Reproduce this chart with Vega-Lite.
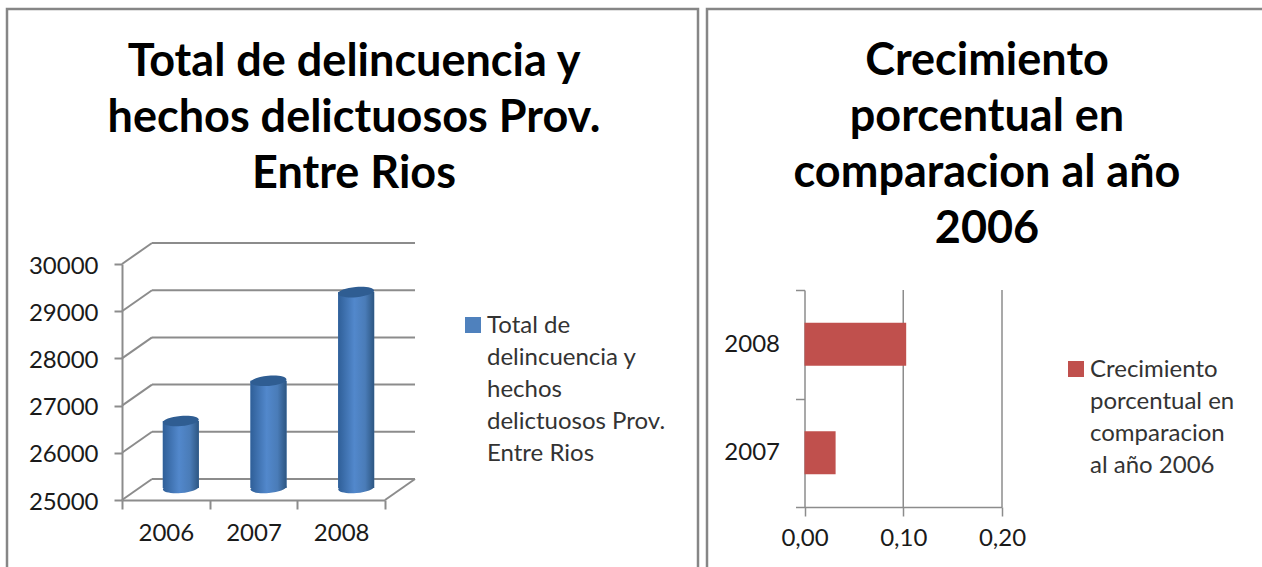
{
"$schema":"https://vega.github.io/schema/vega-lite/v6.json",
"padding":{"left":5,"top":-5,"right":0,"bottom":0},
"background":"white",
"spacing":9,
"bounds":"flush",
"resolve":{"scale":{"color":"independent"}},
"config":{"font":"Lato","view":{"stroke":"#868686","strokeWidth":2.5},"axis":{"labelFont":"Lato","labelFontSize":24,"labelColor":"#1a1a1a","domainColor":"#8c8c8c","tickColor":"#8c8c8c","title":null,"grid":false,"labelFlush":false},"title":{"font":"Lato","fontWeight":"bold","fontSize":45,"color":"#000000","lineHeight":56,"anchor":"middle","frame":"group"},"legend":{"labelFont":"Lato","labelFontSize":24,"labelColor":"#333333","title":null}},
"datasets":{
"totales":[{"year":"2006","total":26420,"base":25000,"serie":"Total de delincuencia y hechos delictuosos Prov. Entre Rios"},{"year":"2007","total":27270,"base":25000,"serie":"Total de delincuencia y hechos delictuosos Prov. Entre Rios"},{"year":"2008","total":29150,"base":25000,"serie":"Total de delincuencia y hechos delictuosos Prov. Entre Rios"}],
"muros":[{"tick":25000,"back":25445},{"tick":26000,"back":26445},{"tick":27000,"back":27445},{"tick":28000,"back":28445},{"tick":29000,"back":29445},{"tick":30000,"back":30445}],
"crecimiento":[{"year":"2007","pct":0.0315,"serie":"Crecimiento porcentual en comparacion al año 2006"},{"year":"2008","pct":0.103,"serie":"Crecimiento porcentual en comparacion al año 2006"}],
"rejilla":[{"v":0.1},{"v":0.2}]
},
"hconcat":[
{"width":691,"height":580,
"title":{"text":["Total de delincuencia y","hechos delictuosos Prov.","Entre Rios"],"offset":-188,"dx":1.5},
"resolve":{"scale":{"x":"independent"}},
"layer":[
{"data":{"name":"muros"},"mark":{"type":"rule","color":"#8c8c8c","strokeWidth":2},"encoding":{"x":{"datum":0,"type":"quantitative","axis":null,"scale":{"domain":[0,1],"range":[145,408]}},"x2":{"datum":1},"y":{"field":"back","type":"quantitative","axis":{"orient":"left","offset":-115,"format":"d","values":[25000,26000,27000,28000,29000,30000],"tickSize":8,"tickWidth":2,"domainWidth":2,"labelPadding":16,"labelOffset":2},"scale":{"domain":[25000,30000],"range":[491,255],"nice":false,"zero":false}}}},
{"data":{"name":"muros"},"mark":{"type":"rule","color":"#8c8c8c","strokeWidth":2},"encoding":{"x":{"datum":0,"type":"quantitative","axis":null,"scale":{"domain":[0,1],"range":[115,145]}},"x2":{"datum":1},"y":{"field":"tick","type":"quantitative"},"y2":{"field":"back"}}},
{"data":{"name":"muros"},"transform":[{"filter":"datum.tick==25000"}],"mark":{"type":"rule","color":"#8c8c8c","strokeWidth":2},"encoding":{"x":{"datum":0,"type":"quantitative","axis":null,"scale":{"domain":[0,1],"range":[378,408]}},"x2":{"datum":1},"y":{"field":"tick","type":"quantitative"},"y2":{"field":"back"}}},
{"data":{"name":"totales"},"mark":{"type":"bar","width":36,"xOffset":15,"yOffset":-12,"y2Offset":-12},
"encoding":{"x":{"field":"year","type":"nominal","axis":{"orient":"bottom","offset":-89,"tickBand":"extent","tickSize":9,"tickWidth":2,"domainWidth":2,"labelAngle":0,"labelPadding":12},"scale":{"type":"band","domain":["2006","2007","2008"],"range":[115,378],"paddingInner":0,"paddingOuter":0}},
"y":{"field":"total","type":"quantitative"},"y2":{"field":"base"},
"color":{"field":"serie","type":"nominal","scale":{"range":["#4F81BD"]},"legend":{"orient":"none","legendX":454,"legendY":304,"symbolType":"square","symbolSize":256,"symbolStrokeWidth":0,"labelOffset":2,"labelExpr":"['Total de','delincuencia y','hechos','delictuosos Prov.','Entre Rios']","labelLimit":300,"encode":{"labels":{"update":{"lineHeight":{"value":32},"baseline":{"value":"top"},"dy":{"value":-11}}}}}}}},
{"data":{"name":"totales"},"mark":{"type":"point","filled":true,"opacity":1,"color":{"gradient":"linear","x1":0,"y1":0,"x2":1,"y2":0,"stops":[{"offset":0,"color":"#2f5f98"},{"offset":0.45,"color":"#5288cc"},{"offset":0.75,"color":"#4a7cb8"},{"offset":1,"color":"#2d5682"}]},"shape":"M-1,0A1,0.28,0,1,0,1,0A1,0.28,0,1,0,-1,0Z","size":1296,"xOffset":15,"yOffset":-12,"angle":-5},
"encoding":{"x":{"field":"year","type":"nominal","axis":null,"scale":{"type":"band","domain":["2006","2007","2008"],"range":[115,378],"paddingInner":0,"paddingOuter":0}},"y":{"field":"base","type":"quantitative"}}},
{"data":{"name":"totales"},"mark":{"type":"bar","width":36,"xOffset":15,"yOffset":-12,"y2Offset":-12,"color":{"gradient":"linear","x1":0,"y1":0,"x2":1,"y2":0,"stops":[{"offset":0,"color":"#2f5f98"},{"offset":0.45,"color":"#5288cc"},{"offset":0.75,"color":"#4a7cb8"},{"offset":1,"color":"#2d5682"}]}},
"encoding":{"x":{"field":"year","type":"nominal","axis":null,"scale":{"type":"band","domain":["2006","2007","2008"],"range":[115,378],"paddingInner":0,"paddingOuter":0}},"y":{"field":"total","type":"quantitative"},"y2":{"field":"base"}}},
{"data":{"name":"totales"},"mark":{"type":"point","filled":true,"opacity":1,"color":"#2f5d92","shape":"M-1,0A1,0.28,0,1,0,1,0A1,0.28,0,1,0,-1,0Z","size":1296,"xOffset":15,"yOffset":-12,"angle":-5},
"encoding":{"x":{"field":"year","type":"nominal","axis":null,"scale":{"type":"band","domain":["2006","2007","2008"],"range":[115,378],"paddingInner":0,"paddingOuter":0}},"y":{"field":"total","type":"quantitative"}}}
]},
{"width":560,"height":580,
"title":{"text":["Crecimiento","porcentual en","comparacion al año","2006"],"offset":-255},
"resolve":{"scale":{"y":"independent"}},
"layer":[
{"data":{"name":"rejilla"},"mark":{"type":"rule","color":"#8c8c8c","strokeWidth":1.5},"encoding":{"x":{"field":"v","type":"quantitative","axis":{"orient":"bottom","offset":-82,"values":[0,0.1,0.2],"labelExpr":"replace(format(datum.value,'.2f'),'.',',')","tickSize":9,"tickWidth":1.5,"domainWidth":1.5,"labelPadding":10},"scale":{"domain":[0,0.2],"range":[97.5,295],"nice":false}},"y":{"datum":0,"type":"quantitative","axis":null,"scale":{"domain":[0,1],"range":[498,281]}},"y2":{"datum":1}}},
{"data":{"name":"crecimiento"},"mark":{"type":"bar","height":43},
"encoding":{"x":{"field":"pct","type":"quantitative"},"y":{"field":"year","type":"nominal","axis":{"orient":"left","offset":-97.5,"tickBand":"extent","tickSize":9,"tickWidth":1.5,"domainWidth":1.5,"labelPadding":16},"scale":{"type":"band","domain":["2008","2007"],"range":[281,498],"paddingInner":0,"paddingOuter":0}},
"color":{"field":"serie","type":"nominal","scale":{"range":["#C0504D"]},"legend":{"orient":"none","legendX":357,"legendY":348,"symbolType":"square","symbolSize":256,"symbolStrokeWidth":0,"labelOffset":2,"labelExpr":"['Crecimiento','porcentual en','comparacion','al año 2006']","labelLimit":300,"encode":{"labels":{"update":{"lineHeight":{"value":32},"baseline":{"value":"top"},"dy":{"value":-11}}}}}}}}
]}
]}
